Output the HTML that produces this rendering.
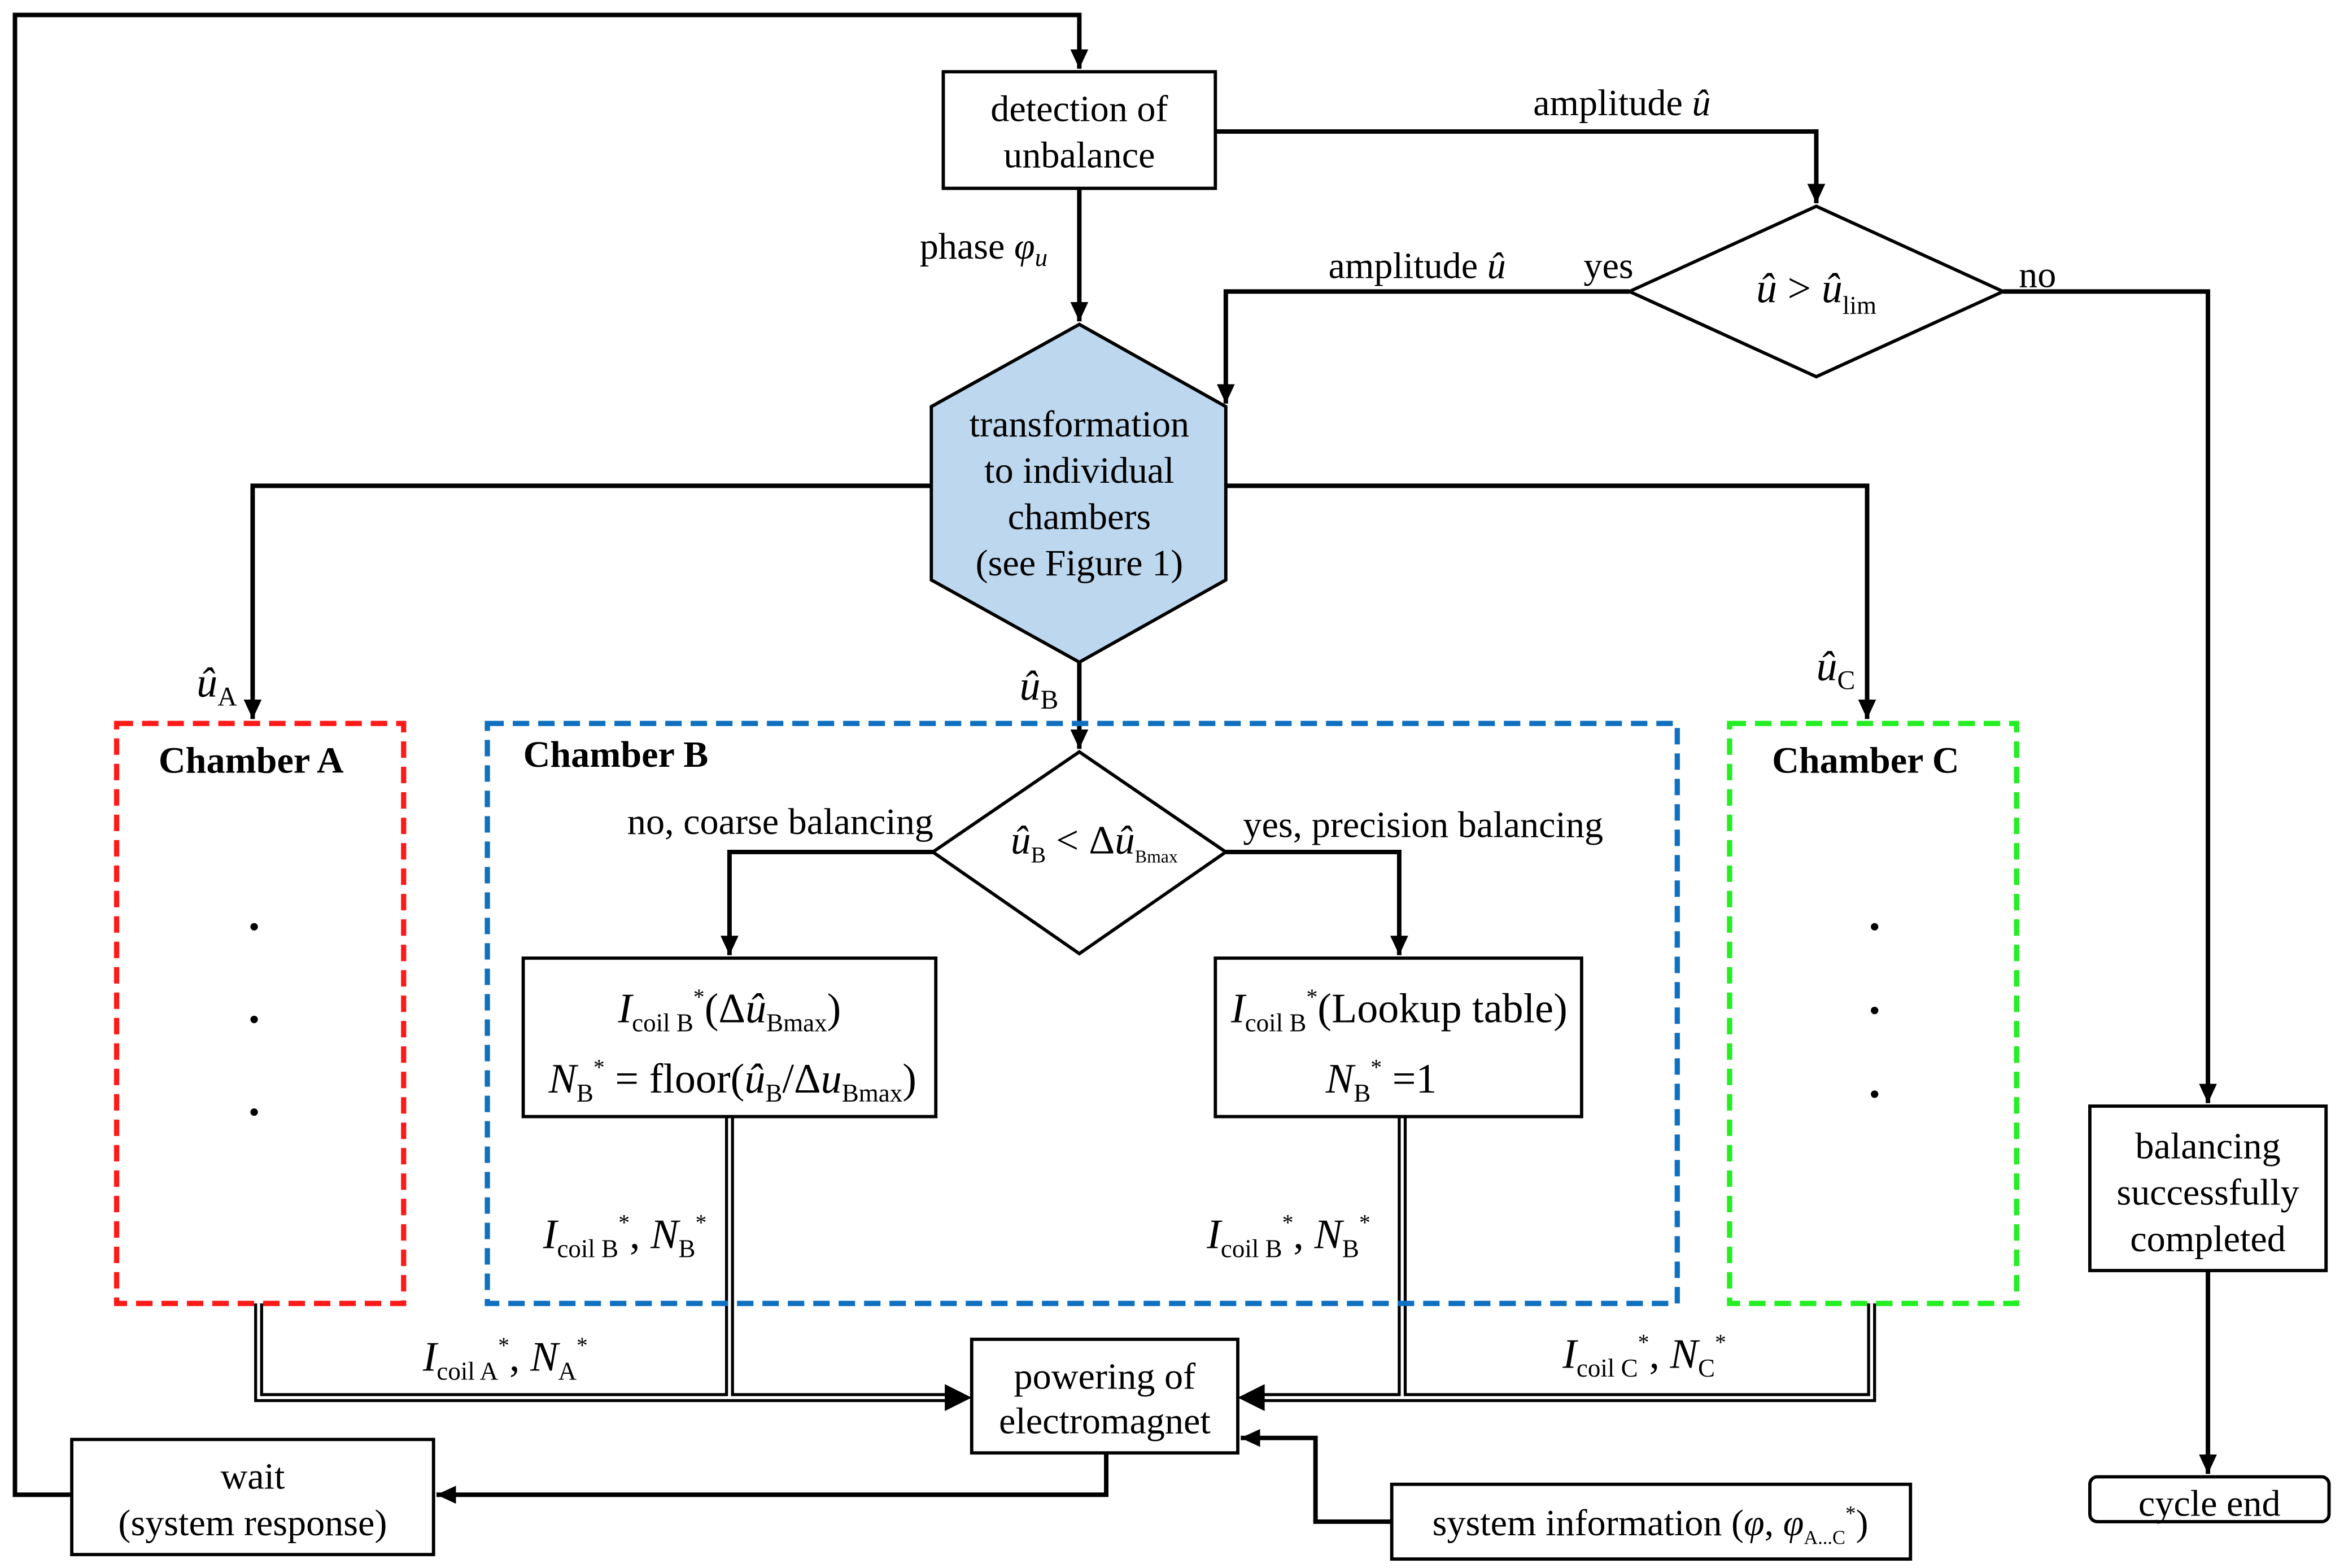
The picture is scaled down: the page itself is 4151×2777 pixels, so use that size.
<!DOCTYPE html>
<html><head><meta charset="utf-8"><style>
html,body{margin:0;padding:0;background:#fff;}
svg{display:block;}
text{font-family:"Liberation Serif",serif;fill:#000;}
.i{font-style:italic;}
.b{font-weight:bold;}
</style></head><body>
<svg width="4151" height="2777" viewBox="0 0 1568 1049" xmlns="http://www.w3.org/2000/svg">
<defs>
<marker id="a" markerUnits="userSpaceOnUse" markerWidth="14" markerHeight="14" refX="13" refY="6" orient="auto"><path d="M0,0 L13,6 L0,12 z" fill="#000"/></marker>
</defs>
<g fill="none" stroke="#000" stroke-width="3">
<polyline points="48,1000 10,1000 10,10 722,10 722,46" marker-end="url(#a)"/>
<polyline points="813,88 1215,88 1215,136" marker-end="url(#a)"/>
<polyline points="1090,195 820,195 820,270" marker-end="url(#a)"/>
<polyline points="1340,195 1477,195 1477,738" marker-end="url(#a)"/>
<polyline points="722,126 722,215" marker-end="url(#a)"/>
<polyline points="623,325 169,325 169,481" marker-end="url(#a)"/>
<polyline points="820,325 1249,325 1249,481" marker-end="url(#a)"/>
<polyline points="722,443 722,501" marker-end="url(#a)"/>
<polyline points="624,570 488,570 488,639" marker-end="url(#a)"/>
<polyline points="820,570 936,570 936,639" marker-end="url(#a)"/>
<polyline points="740,972 740,1000 292,1000" marker-end="url(#a)"/>
<polyline points="931,1018 880,1018 880,962 830,962" marker-end="url(#a)"/>
<polyline points="1477,850 1477,986" marker-end="url(#a)"/>
</g>
<g fill="none" stroke-linejoin="miter">
<polyline points="173,872 173,935 640,935" stroke="#000" stroke-width="6"/>
<polyline points="488,747 488,935" stroke="#000" stroke-width="6"/>
<polyline points="938,747 938,935" stroke="#000" stroke-width="6"/>
<polyline points="1252,872 1252,935 838,935" stroke="#000" stroke-width="6"/>
<polyline points="173,872 173,935 640,935" stroke="#fff" stroke-width="2"/>
<polyline points="488,747 488,935" stroke="#fff" stroke-width="2"/>
<polyline points="938,747 938,935" stroke="#fff" stroke-width="2"/>
<polyline points="1252,872 1252,935 838,935" stroke="#fff" stroke-width="2"/>
</g>
<path d="M632,926 L650,935 L632,944 z" fill="#000"/>
<path d="M846,926 L828,935 L846,944 z" fill="#000"/>
<g stroke="#000" stroke-width="2.2" fill="#fff">
<rect x="631" y="48" width="182" height="78"/>
<polygon points="1215,138 1340,195 1215,252 1090,195"/>
<polygon points="722,217 820,272 820,388 722,443 623,388 623,272" fill="#bdd7ee"/>
<polygon points="722,503 820,570 722,638 624,570"/>
<rect x="350" y="641" width="276" height="106"/>
<rect x="813" y="641" width="245" height="106"/>
<rect x="650" y="896" width="178" height="76"/>
<rect x="48" y="963" width="242" height="77"/>
<rect x="931" y="993" width="347" height="50"/>
<rect x="1398" y="740" width="158" height="110"/>
<rect x="1398" y="988" width="160" height="30" rx="5"/>
</g>
<g fill="none" stroke-width="3.5" stroke-dasharray="11,6">
<rect x="78" y="484" width="192" height="388" stroke="#ff1a1a"/>
<rect x="326" y="484" width="796" height="388" stroke="#1070c0"/>
<rect x="1157" y="484" width="192" height="388" stroke="#22ee22"/>
</g>
<g fill="#000">
<circle cx="170" cy="620" r="2.5"/><circle cx="170" cy="682" r="2.5"/><circle cx="170" cy="744" r="2.5"/>
<circle cx="1254" cy="620" r="2.5"/><circle cx="1254" cy="676" r="2.5"/><circle cx="1254" cy="732" r="2.5"/>
</g>
<g font-size="25" text-anchor="middle">
<text x="722" y="81">detection of</text>
<text x="722" y="112">unbalance</text>
<text x="1085" y="77">amplitude <tspan class="i">û</tspan></text>
<text x="948" y="186">amplitude <tspan class="i">û</tspan></text>
<text x="1076" y="186">yes</text>
<text x="1363" y="192">no</text>
<text x="658" y="173">phase <tspan class="i">φ<tspan font-size="17" dy="5">u</tspan></tspan></text>
<text x="1215" y="202" font-size="28"><tspan class="i">û</tspan> &gt; <tspan class="i">û</tspan><tspan font-size="17" dy="8">lim</tspan></text>
<text x="722" y="292">transformation</text>
<text x="722" y="323">to individual</text>
<text x="722" y="354">chambers</text>
<text x="722" y="385">(see Figure 1)</text>
<text x="145" y="466" class="i" font-size="28">û<tspan font-size="18" dy="6" font-style="normal">A</tspan></text>
<text x="695" y="468" class="i" font-size="28">û<tspan font-size="18" dy="6" font-style="normal">B</tspan></text>
<text x="1228" y="455" class="i" font-size="28">û<tspan font-size="18" dy="6" font-style="normal">C</tspan></text>
<text x="168" y="517" class="b">Chamber A</text>
<text x="1248" y="517" class="b">Chamber C</text>
<text x="350" y="513" class="b" text-anchor="start">Chamber B</text>
<text x="522" y="558">no, coarse balancing</text>
<text x="952" y="560">yes, precision balancing</text>
<text x="732" y="571" font-size="27"><tspan class="i">û</tspan><tspan font-size="15" dy="6">B</tspan><tspan dy="-6"> &lt; Δ</tspan><tspan class="i">û</tspan><tspan font-size="12" dy="6">Bmax</tspan></text>
<text x="488" y="684" font-size="28"><tspan class="i">I</tspan><tspan font-size="17" dy="6">coil B</tspan><tspan font-size="15" dy="-18">*</tspan><tspan dy="12">(Δ</tspan><tspan class="i">û</tspan><tspan font-size="17" dy="6">Bmax</tspan><tspan dy="-6">)</tspan></text>
<text x="490" y="731" font-size="28"><tspan class="i">N</tspan><tspan font-size="17" dy="6">B</tspan><tspan font-size="15" dy="-18">*</tspan><tspan dy="12"> = floor(</tspan><tspan class="i">û</tspan><tspan font-size="17" dy="6">B</tspan><tspan dy="-6">/Δ</tspan><tspan class="i">u</tspan><tspan font-size="17" dy="6">Bmax</tspan><tspan dy="-6">)</tspan></text>
<text x="936" y="684" font-size="28"><tspan class="i">I</tspan><tspan font-size="17" dy="6">coil B</tspan><tspan font-size="15" dy="-18">*</tspan><tspan dy="12">(Lookup table)</tspan></text>
<text x="924" y="731" font-size="28"><tspan class="i">N</tspan><tspan font-size="17" dy="6">B</tspan><tspan font-size="15" dy="-18">*</tspan><tspan dy="12"> =1</tspan></text>
<text x="418" y="835" font-size="28"><tspan class="i">I</tspan><tspan font-size="17" dy="6">coil B</tspan><tspan font-size="15" dy="-18">*</tspan><tspan dy="12">, </tspan><tspan class="i">N</tspan><tspan font-size="17" dy="6">B</tspan><tspan font-size="15" dy="-18">*</tspan></text>
<text x="862" y="835" font-size="28"><tspan class="i">I</tspan><tspan font-size="17" dy="6">coil B</tspan><tspan font-size="15" dy="-18">*</tspan><tspan dy="12">, </tspan><tspan class="i">N</tspan><tspan font-size="17" dy="6">B</tspan><tspan font-size="15" dy="-18">*</tspan></text>
<text x="338" y="917" font-size="28"><tspan class="i">I</tspan><tspan font-size="17" dy="6">coil A</tspan><tspan font-size="15" dy="-18">*</tspan><tspan dy="12">, </tspan><tspan class="i">N</tspan><tspan font-size="17" dy="6">A</tspan><tspan font-size="15" dy="-18">*</tspan></text>
<text x="1100" y="915" font-size="28"><tspan class="i">I</tspan><tspan font-size="17" dy="6">coil C</tspan><tspan font-size="15" dy="-18">*</tspan><tspan dy="12">, </tspan><tspan class="i">N</tspan><tspan font-size="17" dy="6">C</tspan><tspan font-size="15" dy="-18">*</tspan></text>
<text x="739" y="929">powering of</text>
<text x="739" y="959">electromagnet</text>
<text x="169" y="996">wait</text>
<text x="169" y="1027">(system response)</text>
<text x="1104" y="1027">system information  (<tspan class="i">φ</tspan>, <tspan class="i">φ</tspan><tspan font-size="13" dy="6">A...C</tspan><tspan font-size="14" dy="-16">*</tspan><tspan dy="10">)</tspan></text>
<text x="1477" y="775">balancing</text>
<text x="1477" y="806">successfully</text>
<text x="1477" y="837">completed</text>
<text x="1478" y="1014">cycle end</text>
</g>
</svg>
</body></html>
